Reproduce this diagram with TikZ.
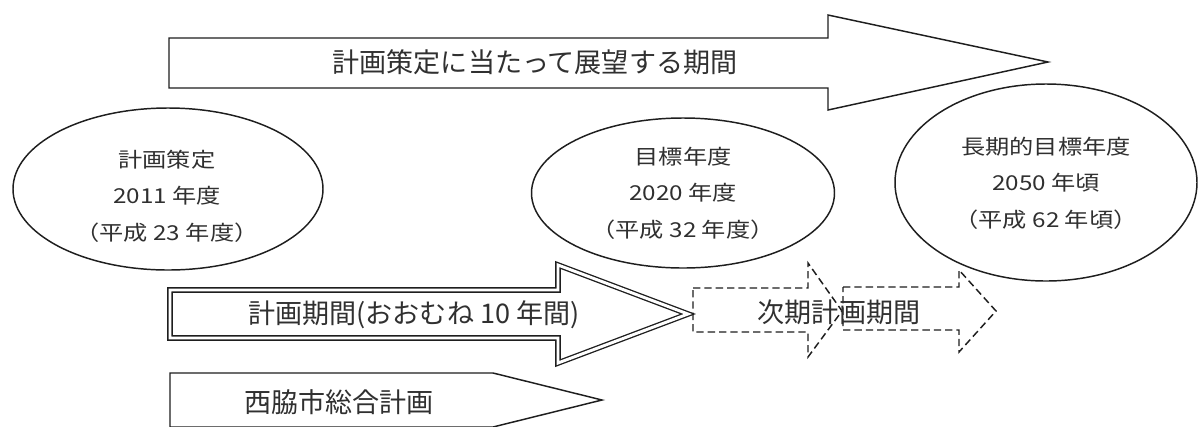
\documentclass[tikz,border=0pt]{standalone}
\usepackage{fontspec}
\setmainfont{Noto Sans CJK JP}
\newfontfamily\widejp[FakeStretch=1.18]{Noto Sans CJK JP}
\usetikzlibrary{shapes.geometric}
\definecolor{ink}{HTML}{1E1E1E}
\definecolor{txt}{HTML}{303030}
\begin{document}
\begin{tikzpicture}[x=0.75pt,y=-0.75pt,
  outline/.style={draw=ink, line width=1.1pt, line join=miter},
  dbl/.style={draw=ink, line width=1pt, double=white, double distance=2.2pt, line join=miter},
  dashline/.style={draw=ink, line width=1.1pt, dash pattern=on 5.5pt off 3pt},
  oval/.style={ellipse, draw=ink, line width=1.1pt, inner sep=0pt},
  big/.style={text=txt, font=\fontsize{20.3}{24}\selectfont, inner sep=0pt},
  small/.style={text=txt, font=\widejp\fontsize{15.4}{27.4}\selectfont, align=center, inner sep=0pt}]
\useasboundingbox (0,0) rectangle (1200,426);
\fill[white] (0,0) rectangle (1200,426);
\clip (0,0) rectangle (1200,426);

% top arrow
\draw[outline] (169,38) -- (828,38) -- (828,15) -- (1048,62) -- (828,110) -- (828,88) -- (169,88) -- cycle;
\node[big] (tlabel) at (535,62) {計画策定に当たって展望する期間};

% ellipses
\node[oval, minimum width=232.5pt, minimum height=121.5pt] (e1) at (168,189) {};
\node[oval, minimum width=227.25pt, minimum height=112.5pt] (e2) at (683,193) {};
\node[oval, minimum width=226.5pt, minimum height=147.75pt] (e3) at (1046,182.5) {};
\node[small] (t1) at (167,196) {計画策定\\2011 年度\\（平成 23 年度）};
\node[small] (t2) at (683,193) {目標年度\\2020 年度\\（平成 32 年度）};
\node[small] (t3) at (1046,183) {長期的目標年度\\2050 年頃\\（平成 62 年頃）};

% double arrow
\draw[dbl] (170,290) -- (558,290) -- (558,265) -- (688,314) -- (558,363) -- (558,338) -- (170,338) -- cycle;
\node[big] (plabel) at (414,315) {計画期間(おおむね 10 年間)};

% dashed arrows
\draw[dashline] (693,288) -- (808,288) -- (808,263) -- (842,311) -- (808,357) -- (808,332) -- (693,332) -- cycle;
\draw[dashline] (843,287) -- (959,287) -- (959,270) -- (996,311) -- (959,352) -- (959,330) -- (843,330) -- cycle;
\node[big] (nlabel) at (839,312) {次期計画期間};

% bottom arrow
\draw[outline] (170,373) -- (493,373) -- (602,400) -- (493,427) -- (170,427) -- cycle;
\node[big] (blabel) at (339,402) {西脇市総合計画};
\end{tikzpicture}
\end{document}
